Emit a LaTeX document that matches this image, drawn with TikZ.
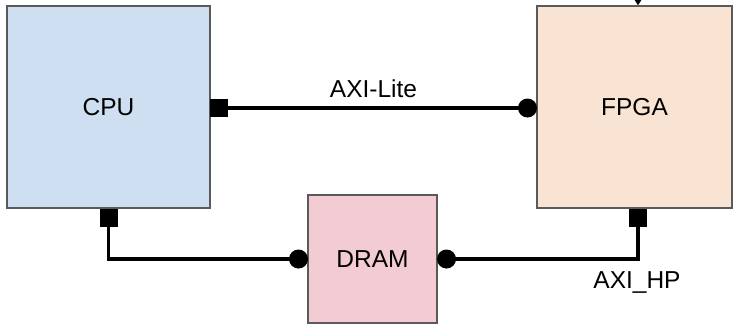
\documentclass[tikz,border=0pt]{standalone}
\usepackage{fontspec}
\setmainfont{Liberation Sans}
\usetikzlibrary{arrows.meta}
\definecolor{cpufill}{HTML}{CDDFF0}
\definecolor{fpgafill}{HTML}{F9E3D3}
\definecolor{dramfill}{HTML}{F3CCD3}
\definecolor{edge}{HTML}{5A5A5A}
\begin{document}
\begin{tikzpicture}[x=1pt,y=-1pt,
  box/.style={draw=edge,line width=1.5pt,inner sep=0pt,font=\fontsize{24.5}{29}\selectfont},
  sqmark/.style={fill=black,draw=none,minimum size=18pt,inner sep=0pt},
  dotmark/.style={circle,fill=black,draw=none,minimum size=19pt,inner sep=0pt},
  wire/.style={line width=3.5pt,black},
  lbl/.style={font=\fontsize{24.5}{29}\selectfont,inner sep=0pt}]
\useasboundingbox (0,0) rectangle (738,324);
\clip (0,0) rectangle (738,324);
\node[box,fill=cpufill,minimum width=203pt,minimum height=202pt] (cpu) at (108.5,107) {CPU};
\node[box,fill=fpgafill,minimum width=195pt,minimum height=202pt] (fpga) at (634.5,107) {FPGA};
\node[box,fill=dramfill,minimum width=129pt,minimum height=128pt] (dram) at (372.5,259) {DRAM};
% markers
\node[sqmark] (sqa) at (219,108) {};
\node[dotmark] (dta) at (527.5,108) {};
\node[sqmark] (sqb) at (108.5,218) {};
\node[dotmark] (dtb) at (298.5,259) {};
\node[dotmark] (dtc) at (446.5,259) {};
\node[sqmark] (sqc) at (638,218) {};
% connectors
\draw[wire] (sqa.center) -- (dta.center);
\draw[wire] (sqb.center) |- (dtb.center);
\draw[wire] (dtc.center) -| (sqc.center);
% incoming arrow at top
\coordinate (topin) at (638,-30);
\draw[line width=2.5pt,-{Triangle[width=15pt,length=12pt]}] (topin) -- (topin |- fpga.north);
% labels
\node[lbl] (axilite) at (373.5,89) {AXI-Lite};
\node[lbl,anchor=base] (axihp) at (637,288) {AXI\_HP};
\end{tikzpicture}
\end{document}
